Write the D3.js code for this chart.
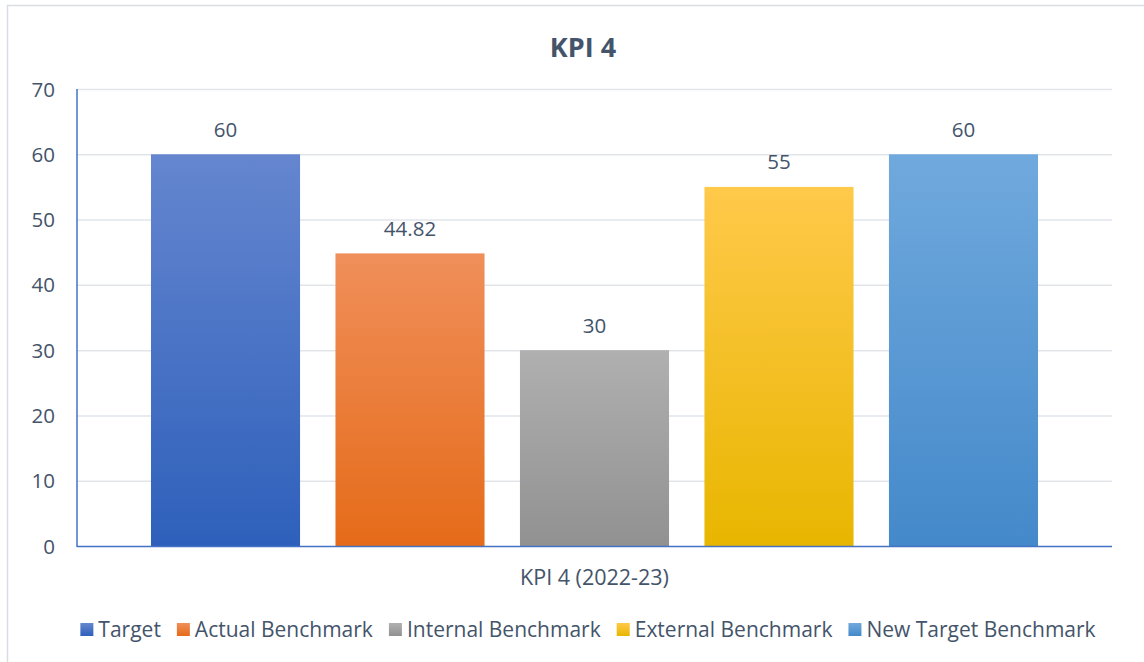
<!DOCTYPE html>
<html>
<head>
<meta charset="utf-8">
<script src="https://cdn.jsdelivr.net/npm/d3@7"></script>
<style>
  html, body { margin: 0; padding: 0; background: #fff; }
  svg { display: block; }
  text { font-family: "Open Sans", Lato, sans-serif; }
</style>
</head>
<body>
<svg id="chart" width="1144" height="662"></svg>
<script>
const title = "KPI 4";
const categoryLabel = "KPI 4 (2022-23)";
const seriesNames = ["Target", "Actual Benchmark", "Internal Benchmark", "External Benchmark", "New Target Benchmark"];
const seriesValues = [60, 44.82, 30, 55, 60];
const valueLabels = ["60", "44.82", "30", "55", "60"];
const yTicks = [0, 10, 20, 30, 40, 50, 60, 70];
const topColors = ["#6586cf", "#f08f5a", "#b0b0b0", "#ffc94a", "#70a9dd"];
const bottomColors = ["#2e60bb", "#e56b19", "#919191", "#e8b600", "#4489ca"];

(function () {
const textColor = "#44546a";
const fs = 20.5;
const svg = d3.select("#chart");

// chart frame
svg.append("rect").attr("x", 7.5).attr("y", 5.5).attr("width", 1160).attr("height", 680)
  .attr("fill", "#fff").attr("stroke", "#d9dde3").attr("stroke-width", 1.5);

const pLeft = 77, pRight = 1112, pTop = 89, pBottom = 546;
const y = d3.scaleLinear().domain([0, 70]).range([pBottom, pTop]);
const x = d3.scaleBand().domain(seriesNames).range([pLeft, pRight]).paddingInner(0.192).paddingOuter(0.401);

// gradients
const defs = svg.append("defs");
seriesNames.forEach((s, i) => {
  const g = defs.append("linearGradient").attr("id", "g" + i).attr("x1", 0).attr("y1", 0).attr("x2", 0).attr("y2", 1);
  g.append("stop").attr("offset", "0%").attr("stop-color", topColors[i]);
  g.append("stop").attr("offset", "100%").attr("stop-color", bottomColors[i]);
});

// gridlines
svg.append("g").selectAll("line").data(yTicks.filter(t => t > 0)).join("line")
  .attr("x1", pLeft).attr("x2", pRight)
  .attr("y1", d => y(d) + 0.5).attr("y2", d => y(d) + 0.5)
  .attr("stroke", "#e1e5ea").attr("stroke-width", 1.5);

// y tick labels
svg.append("g").selectAll("text").data(yTicks).join("text")
  .attr("x", 55).attr("y", d => y(d) + 7.5)
  .attr("text-anchor", "end").attr("font-size", fs).attr("fill", textColor)
  .text(d => d);

// bars
svg.append("g").selectAll("rect").data(seriesValues).join("rect")
  .attr("x", (d, i) => x(seriesNames[i]))
  .attr("width", x.bandwidth())
  .attr("y", d => y(d))
  .attr("height", d => y(0) - y(d))
  .attr("fill", (d, i) => `url(#g${i})`);

// value labels
svg.append("g").selectAll("text").data(seriesValues).join("text")
  .attr("x", (d, i) => x(seriesNames[i]) + x.bandwidth() / 2)
  .attr("y", d => y(d) - 17.5)
  .attr("text-anchor", "middle").attr("font-size", fs).attr("fill", textColor)
  .text((d, i) => valueLabels[i]);

// axes lines
svg.append("line").attr("x1", pLeft).attr("x2", pLeft).attr("y1", pTop).attr("y2", pBottom + 1)
  .attr("stroke", "#4472c4").attr("stroke-width", 1.5);
svg.append("line").attr("x1", pLeft).attr("x2", pRight).attr("y1", pBottom + 0.5).attr("y2", pBottom + 0.5)
  .attr("stroke", "#4472c4").attr("stroke-width", 1.5);

// category label
svg.append("text").attr("x", (pLeft + pRight) / 2).attr("y", 585)
  .attr("text-anchor", "middle").attr("font-size", 21.5).attr("fill", textColor)
  .text(categoryLabel);

// title
svg.append("text").attr("x", 583).attr("y", 57)
  .attr("text-anchor", "middle").attr("font-size", 27).attr("font-weight", "bold").attr("fill", textColor)
  .text(title);

// legend
const lg = svg.append("g");
const items = lg.selectAll("g").data(seriesNames).join("g");
items.append("rect").attr("width", 13).attr("height", 13).attr("y", -7)
  .attr("fill", (d, i) => `url(#g${i})`);
items.append("text").attr("x", 18).attr("y", 7).attr("font-size", 21).attr("fill", textColor).text(d => d);
const widths = [];
items.each(function (d) {
  widths.push(18 + d3.select(this).select("text").node().getComputedTextLength());
});
const gap = 16;
const total = d3.sum(widths) + gap * (widths.length - 1);
let start = 588 - total / 2;
items.attr("transform", (d, i) => {
  const t = `translate(${start},630)`;
  start += widths[i] + gap;
  return t;
});
})();
</script>
</body>
</html>
